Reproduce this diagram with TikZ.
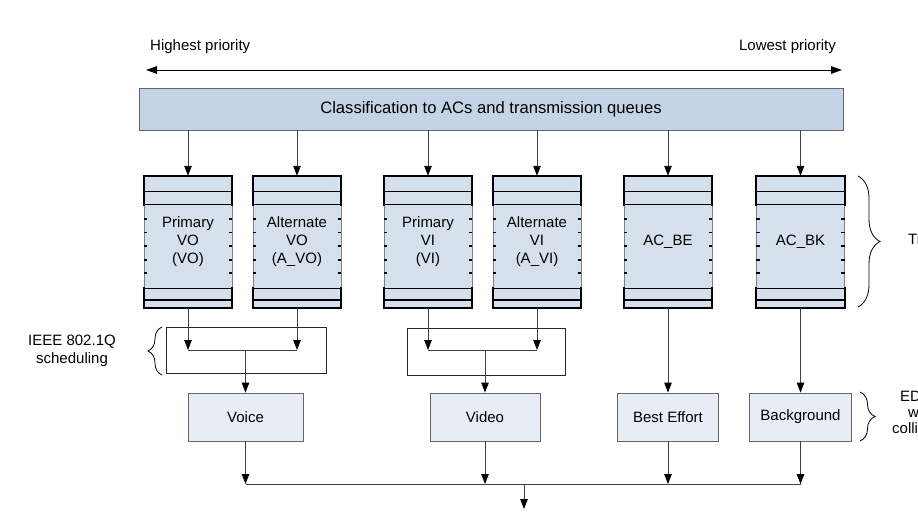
\documentclass[tikz,border=0pt]{standalone}
\usepackage{fontspec}
\setmainfont{Liberation Sans}
\usetikzlibrary{arrows.meta,calc,decorations.pathreplacing}
\definecolor{clsfill}{RGB}{196,212,230}
\definecolor{qfill}{RGB}{214,223,236}
\definecolor{bfill}{RGB}{232,237,245}
\definecolor{lnc}{RGB}{64,64,64}
\definecolor{bdc}{RGB}{100,100,100}
\begin{document}
\begin{tikzpicture}[x=1pt,y=-1pt,
  every node/.style={font=\fontsize{15}{18}\selectfont, inner sep=0pt},
  arr/.style={draw=lnc, line width=0.9pt, -{Triangle[length=10pt,width=7.5pt,black]}},
  conn/.style={draw=lnc, line width=0.9pt},
  clsbox/.style={draw=bdc, fill=clsfill, line width=0.9pt, minimum width=704pt, minimum height=42pt, font=\fontsize{16.6}{20}\selectfont},
  queue/.style={fill=qfill, minimum width=88pt, minimum height=132pt, align=center},
  acbox/.style={draw=bdc, fill=bfill, line width=0.9pt, minimum height=48pt},
  schbox/.style={draw=black!85, line width=0.9pt},
  lbl/.style={align=center},
  brc/.style={draw=black, line width=0.8pt, decorate, decoration={brace, amplitude=#1}},
]
\useasboundingbox (0,0) rectangle (918,517);
\clip (0,0) rectangle (918,517);
\fill[white] (0,0) rectangle (918,517);

% priority arrow
\node[anchor=west] (hp) at (150,47) {Highest priority};
\node[anchor=east] (lp) at (836,47) {Lowest priority};
\coordinate (pl) at (146,70);
\coordinate (pr) at (842,70);
\draw[black, line width=1pt, {Triangle[length=11pt,width=7.5pt]}-{Triangle[length=11pt,width=7.5pt]}] (pl) -- (pr);

% classification
\node[clsbox] (cls) at (491,109) {Classification to ACs and transmission queues};

% queues
\node[queue] (q1) at (188,242) {Primary\\VO\\(VO)};
\node[queue] (q2) at (297,242) {Alternate\\VO\\(A\_VO)};
\node[queue] (q3) at (428,242) {Primary\\VI\\(VI)};
\node[queue] (q4) at (537,242) {Alternate\\VI\\(A\_VI)};
\node[queue] (q5) at (668,242) {AC\_BE};
\node[queue] (q6) at (800.5,242) {AC\_BK};

\foreach \q in {q1,q2,q3,q4,q5,q6}{
  \draw[draw=gray, line width=0.6pt] ($(\q.north west)+(0,29)$) -- ($(\q.south west)+(0,-20)$);
  \draw[draw=gray, line width=0.6pt] ($(\q.north east)+(0,29)$) -- ($(\q.south east)+(0,-20)$);
  \foreach \t in {43,56.5,70,84,97}{
    \draw[line width=1.4pt] ($(\q.north west)+(0,\t)$) -- ++(3.5,0);
    \draw[line width=1.4pt] ($(\q.north east)+(0,\t)$) -- ++(-3.5,0);
  }
  \draw[line width=1.6pt] ($(\q.north west)+(0,15.7)$) -- ++(88,0);
  \draw[line width=1.1pt] ($(\q.north west)+(0,29)$) -- ++(88,0);
  \draw[line width=1.1pt] ($(\q.south west)+(0,-20)$) -- ++(88,0);
  \draw[line width=1.6pt] ($(\q.south west)+(0,-8)$) -- ++(88,0);
  \draw[line width=2pt, line cap=rect] ($(\q.north west)+(0,29)$) -- (\q.north west) -- (\q.north east) -- ($(\q.north east)+(0,29)$);
  \draw[line width=2pt, line cap=rect] ($(\q.south west)+(0,-20)$) -- (\q.south west) -- (\q.south east) -- ($(\q.south east)+(0,-20)$);
  \draw[arr] (cls.south -| \q) -- (\q.north);
}

% scheduling boxes
\node[schbox, minimum width=160pt, minimum height=46pt] (sch1) at (246,350.5) {};
\node[schbox, minimum width=158pt, minimum height=47pt] (sch2) at (486,351.5) {};

% AC boxes
\node[acbox, minimum width=115pt] (voice) at (245.5,417) {Voice};
\node[acbox, minimum width=110pt] (video) at (485,417) {Video};
\node[acbox, minimum width=101pt] (be) at (668,417) {Best Effort};
\node[acbox, minimum width=102pt] (bg) at (800.5,417) {Background};

% scheduling connectors
\coordinate (j1a) at (188,350);
\coordinate (j1b) at (297,350);
\coordinate (j1m) at (245.5,350);
\coordinate (j2a) at (428,350);
\coordinate (j2b) at (537,350);
\coordinate (j2m) at (485,350);
\draw[arr] (q1.south) -- (j1a);
\draw[arr] (q2.south) -- (j1b);
\draw[conn] (j1a) -- (j1b);
\draw[arr] (j1m) -- (voice.north);
\draw[arr] (q3.south) -- (j2a);
\draw[arr] (q4.south) -- (j2b);
\draw[conn] (j2a) -- (j2b);
\draw[arr] (j2m) -- (video.north);
\draw[arr] (q5.south) -- (be.north);
\draw[arr] (q6.south) -- (bg.north);

% bottom merge
\coordinate (b1) at (245.5,484);
\coordinate (b2) at (485,484);
\coordinate (b3) at (668,484);
\coordinate (b4) at (800.5,484);
\coordinate (bo) at (524,484);
\coordinate (out) at (524,509);
\draw[arr] (voice.south) -- (b1);
\draw[arr] (video.south) -- (b2);
\draw[arr] (be.south) -- (b3);
\draw[arr] (bg.south) -- (b4);
\draw[conn] (b1) -- (b4);
\draw[arr] (bo) -- (out);

% braces and side labels
\draw[brc=14pt] (162,375) -- (162,327);
\node[lbl] (ieee) at (72,351) {IEEE 802.1Q\\scheduling};
\draw[brc=22pt] (858,176) -- (858,307);
\node[anchor=west] (tq) at (908,241) {Transmit queues};
\draw[brc=15pt] (860,392) -- (860,441);
\node[anchor=west] (e1) at (900,396) {EDCA functions};
\node[anchor=west] (e2) at (908,412) {with internal};
\node[anchor=west] (e3) at (892,428) {collision resolution};
\end{tikzpicture}
\end{document}
